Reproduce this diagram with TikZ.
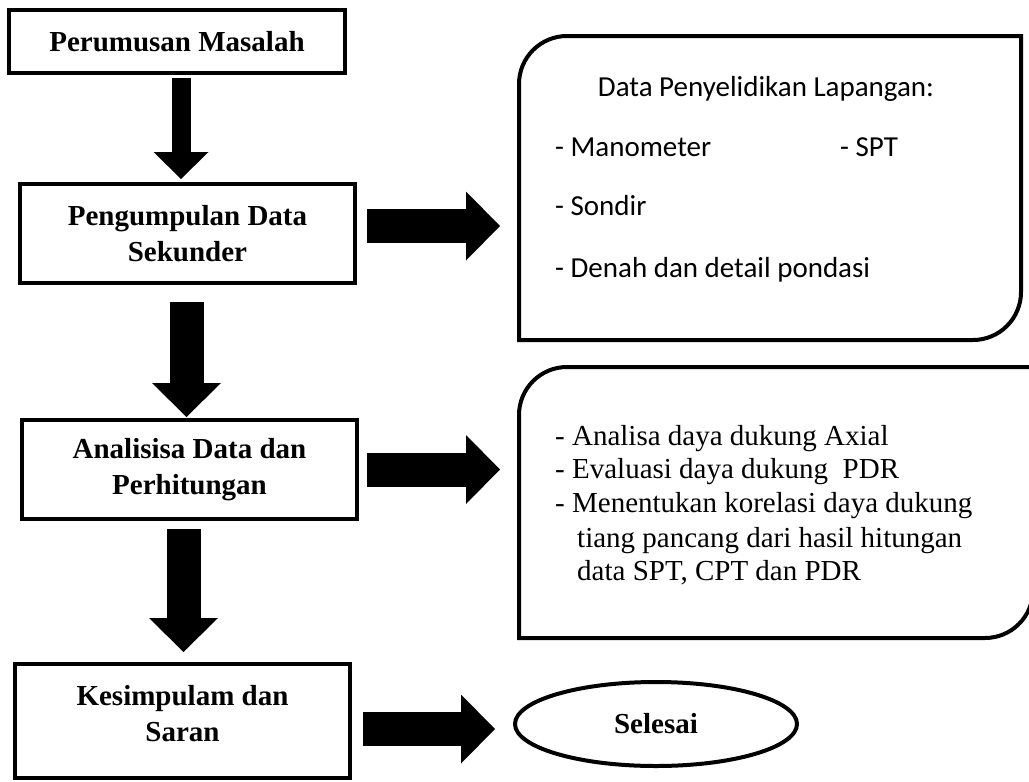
\documentclass[tikz,border=0pt]{standalone}
\usepackage{fontspec}
\setmainfont{Liberation Serif}
\newfontfamily\calibri{Carlito}
\usetikzlibrary{shapes.geometric, arrows.meta}
\tikzstyle{stepbox} = [rectangle, draw=black, line width=4pt, inner sep=0pt, align=center, font=\fontsize{29}{36}\selectfont\bfseries]
\tikzstyle{endstop} = [ellipse, draw=black, line width=4pt, inner sep=0pt, minimum width=282pt, minimum height=84pt, font=\fontsize{29}{36}\selectfont\bfseries]
\tikzstyle{infobox} = [rectangle, inner sep=0pt, outer sep=0pt]
\tikzstyle{infoline} = [line width=4pt]
\tikzstyle{sanstext} = [anchor=base west, inner sep=0pt, font=\calibri\fontsize{29}{34}\selectfont]
\tikzstyle{serftext} = [anchor=base west, inner sep=0pt, font=\fontsize{29}{34}\selectfont]
\tikzstyle{thinarrow} = [line width=19pt, -{Triangle[length=27pt, width=55pt, line width=0pt]}]
\tikzstyle{blockarrow} = [line width=34pt, -{Triangle[length=34pt, width=69pt, line width=0pt]}]
\begin{document}
\begin{tikzpicture}[x=1pt, y=-1pt]

        \path[fill=white, use as bounding box] (0,0) rectangle (1029,782);

        \node (perumusan) [stepbox, minimum width=336pt, minimum height=63pt] at (177,41.5) {Perumusan Masalah};
        \node (pengumpulan) [stepbox, minimum width=335pt, minimum height=99pt] at (187.5,233.5) {Pengumpulan Data\\Sekunder};
        \node (analisis) [stepbox, minimum width=335pt, minimum height=99pt] at (189.5,469.5) {Analisisa Data dan\\Perhitungan};
        \node (kesimpulan) [stepbox, minimum width=335pt, minimum height=114pt] at (182.5,721) {Kesimpulam dan\\Saran\\[-20pt]\mbox{}};
        \node (selesai) [endstop] at (656,724) {Selesai};

        % kotak data lapangan
        \node (lapangan) [infobox, minimum width=502pt, minimum height=304pt] at (770,188) {};
        \draw [infoline] (lapangan.south west) -- ([yshift=-48pt]lapangan.north west)
            arc[start angle=180, end angle=90, radius=48pt] -- (lapangan.north east)
            -- ([yshift=48pt]lapangan.south east) arc[start angle=0, end angle=-90, radius=48pt] -- cycle;
        \node (tjudul) [sanstext, anchor=base] at (766,96) {Data Penyelidikan Lapangan:};
        \node (tmano) [sanstext] at (555,156) {- Manometer};
        \node (tspt) [sanstext] at (840,156) {- SPT};
        \node (tsondir) [sanstext] at (555,215) {- Sondir};
        \node (tdenah) [sanstext] at (555,277) {- Denah dan detail pondasi};

        % kotak hasil analisa
        \node (hasil) [infobox, minimum width=514pt, minimum height=271pt] at (776,502.5) {};
        \draw [infoline] (hasil.south west) -- ([yshift=-48pt]hasil.north west)
            arc[start angle=180, end angle=90, radius=48pt] -- (hasil.north east)
            -- ([yshift=48pt]hasil.south east) arc[start angle=0, end angle=-90, radius=48pt] -- cycle;
        \node (taxial) [serftext] at (555,445) {- Analisa daya dukung Axial};
        \node (tpdr) [serftext] at (555,478) {- Evaluasi daya dukung\ \ PDR};
        \node (tkorelasi) [serftext] at (555,512) {- Menentukan korelasi daya dukung};
        \node (ttiang) [serftext] at (577,547) {tiang pancang dari hasil hitungan};
        \node (tdata) [serftext] at (577,580) {data SPT, CPT dan PDR};

        \draw [thinarrow, shorten <=3pt, shorten >=3pt] (perumusan.south -| 181,0) -- (pengumpulan.north -| 181,0);
        \draw [blockarrow, shorten <=17pt, shorten >=1pt] (pengumpulan.south -| 186.5,0) -- (analisis.north -| 186.5,0);
        \draw [blockarrow, shorten <=8pt, shorten >=10pt] (analisis.south -| 183.5,0) -- (kesimpulan.north -| 183.5,0);

        \draw [blockarrow, shorten <=10pt, shorten >=19pt] (pengumpulan.east |- 0,226) -- (lapangan.west |- 0,226);
        \draw [blockarrow, shorten <=8pt, shorten >=19pt] (analisis.east) -- (analisis.east -| hasil.west);
        \draw [blockarrow, shorten <=11pt, shorten >=18pt] (kesimpulan.east |- 0,729) -- (selesai.west |- 0,729);

    \end{tikzpicture}
\end{document}
